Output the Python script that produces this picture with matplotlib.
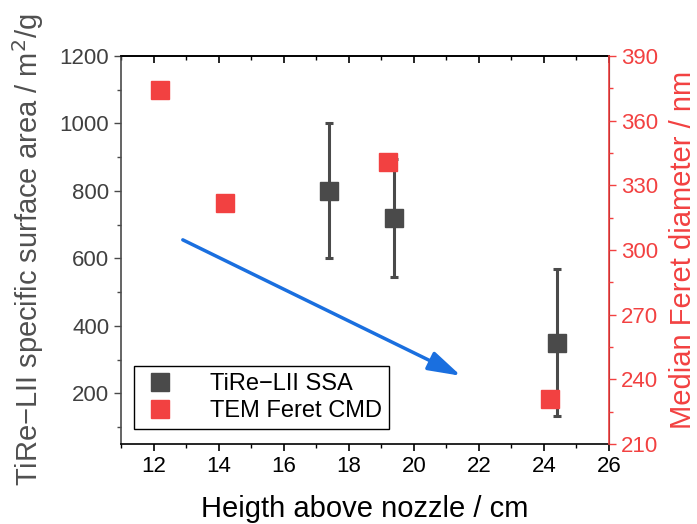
import matplotlib.pyplot as plt
from matplotlib.lines import Line2D
from matplotlib.ticker import MultipleLocator

# TiRe-LII specific surface area (left axis)
ssa_height = [17.4, 19.4, 24.4]
ssa_value = [800, 720, 350]
ssa_err = [200, 175, 218]

# TEM Feret CMD (right axis)
tem_height = [12.2, 14.2, 19.2, 24.2]
tem_value = [374, 322, 341, 231]

# trend arrow (left-axis data coordinates)
arrow_start = (12.9, 655)
arrow_end = (21.45, 252)

gray = '#4a4a4a'
red = '#f24141'
blue = '#1a6fdf'

plt.rcParams['font.family'] = ['Liberation Sans', 'DejaVu Sans']

fig = plt.figure(figsize=(6.97, 5.24), dpi=100)
ax = fig.add_axes([0.1736, 0.1527, 0.7001, 0.7405])
ax2 = ax.twinx()

ax.errorbar(ssa_height, ssa_value, yerr=ssa_err, fmt='s', color=gray, ms=13,
            ecolor=gray, elinewidth=2.2, capsize=3, capthick=2.2)
ax2.plot(tem_height, tem_value, 's', color=red, ms=13, ls='none')

ax.annotate('', xy=arrow_end, xytext=arrow_start,
            arrowprops=dict(arrowstyle='-|>,head_length=1.0,head_width=0.3',
                            mutation_scale=20, color=blue, lw=2.5,
                            shrinkA=0, shrinkB=0))

ax.set_xlim(11, 26)
ax.set_ylim(50, 1200)
ax2.set_ylim(210, 390)

ax.xaxis.set_major_locator(MultipleLocator(2))
ax.xaxis.set_minor_locator(MultipleLocator(1))
ax.yaxis.set_major_locator(MultipleLocator(200))
ax.yaxis.set_minor_locator(MultipleLocator(100))
ax2.yaxis.set_major_locator(MultipleLocator(30))
ax2.yaxis.set_minor_locator(MultipleLocator(15))

ax.tick_params(axis='x', which='both', direction='out', colors='black', labelsize=16)
ax.tick_params(axis='x', which='major', length=5, width=1.2)
ax.tick_params(axis='x', which='minor', length=3, width=1.0)

# top axis: inward ticks, no labels
top = ax.secondary_xaxis('top')
top.xaxis.set_major_locator(MultipleLocator(2))
top.xaxis.set_minor_locator(MultipleLocator(1))
top.tick_params(which='both', direction='in', labeltop=False, colors='black')
top.tick_params(which='major', length=5, width=1.2)
top.tick_params(which='minor', length=3, width=1.0)
top.spines['top'].set_linewidth(1.2)

ax.tick_params(axis='y', which='both', direction='out', colors=gray, labelsize=16,
               labelcolor='#404040')
ax.tick_params(axis='y', which='major', length=5, width=1.0)
ax.tick_params(axis='y', which='minor', length=3, width=1.0)
ax2.tick_params(axis='y', which='both', direction='out', colors=red, labelsize=16)
ax2.tick_params(axis='y', which='major', length=5, width=1.0)
ax2.tick_params(axis='y', which='minor', length=3, width=1.0)

ax.spines['left'].set_color(gray)
ax.spines['bottom'].set_color('black')
ax.spines['top'].set_color('black')
ax2.spines['right'].set_color(red)
ax2.spines['left'].set_visible(False)
ax2.spines['top'].set_visible(False)
ax2.spines['bottom'].set_visible(False)
for s in ['left', 'bottom', 'top']:
    ax.spines[s].set_linewidth(1.2)
ax2.spines['right'].set_linewidth(1.2)

ax.set_xlabel('Heigth above nozzle / cm', fontsize=21, color='black', labelpad=13)
ax.set_ylabel('TiRe\u2212LII specific surface area / m$^2$/g', fontsize=21,
              color='#505050', labelpad=10)
ax2.set_ylabel('Median Feret diameter / nm', fontsize=21, color=red, labelpad=8)

handles = [Line2D([], [], ls='none', marker='s', ms=13, color=gray),
           Line2D([], [], ls='none', marker='s', ms=13, color=red)]
labels = ['TiRe\u2212LII SSA', 'TEM Feret CMD']
leg = ax2.legend(handles, labels, loc='lower left', bbox_to_anchor=(0.027, 0.039),
                 borderaxespad=0, fontsize=17, fancybox=False, framealpha=1,
                 edgecolor='black', handletextpad=1.3, borderpad=0.3,
                 labelspacing=0.2, handlelength=1.6)
leg.get_frame().set_linewidth(1.0)

fig.savefig('out.png', dpi=100)
